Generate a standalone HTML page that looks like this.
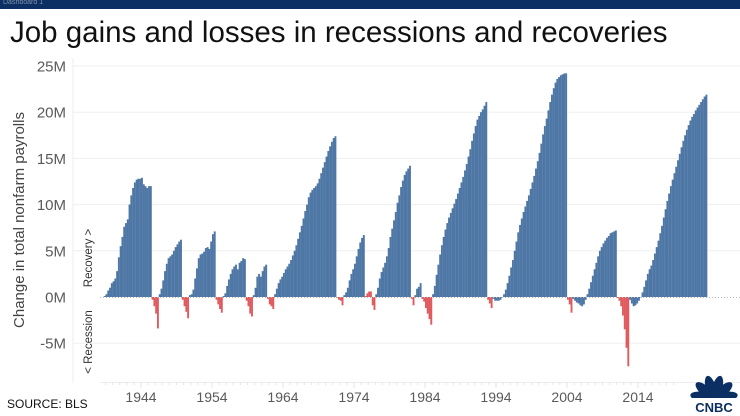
<!DOCTYPE html>
<html><head><meta charset="utf-8"><style>
html,body{margin:0;padding:0;background:#fff;}
body{width:740px;height:416px;overflow:hidden;position:relative;font-family:"Liberation Sans",sans-serif;}
#topbar{position:absolute;left:0;top:0;width:740px;height:9px;background:#0b2f63;}
#topbar span{position:absolute;left:3px;top:-1px;font-size:7px;color:#7f8fa8;}
#title{position:absolute;left:10px;top:16px;font-size:29.5px;color:#111;white-space:nowrap;}
#source{position:absolute;left:7px;top:397px;font-size:12px;color:#111;}
svg{position:absolute;left:0;top:0;}
</style></head><body>
<div id="topbar"><span>Dashboard 1</span></div>
<div id="title">Job gains and losses in recessions and recoveries</div>
<div id="source">SOURCE: BLS</div>
<svg id="chart" width="740" height="416"></svg>
<script>
const yTicks = [25,20,15,10,5,0,-5];
const yTickLabels = ["25M","20M","15M","10M","5M","0M","-5M"];
const xTicks = [1944,1954,1964,1974,1984,1994,2004,2014];
const startYear = 1938.75;
const episodeTypes = ["rec","recess","rec","recess","rec","recess","rec","recess","rec","recess","rec","recess","rec","recess","rec","recess","rec","recess","rec","recess","rec","recess","rec","recess","rec"];
const episodeValues = [
[0.1,0.3,0.7,1.0,1.5,1.7,2.0,2.8,4.3,5.5,6.5,7.6,8.0,8.4,10.0,11.0,11.8,12.4,12.7,12.8,12.8,12.9,12.2,12.0,11.8,12.0,12.0],
[-0.3,-1.0,-1.8,-3.4],
[0.3,0.9,1.8,2.8,3.6,4.2,4.4,4.6,5.0,5.4,5.7,6.0,6.2],
[-0.3,-1.0,-1.6,-2.3],
[0.2,0.3,0.8,2.0,3.1,4.2,4.6,4.7,4.9,5.3,5.4,5.2,6.0,6.8,7.1],
[-0.3,-0.8,-1.3,-1.7],
[0.1,0.4,1.2,1.9,2.5,3.0,3.3,3.5,3.0,3.7,3.9,4.2,4.1],
[-0.4,-1.0,-1.8,-2.1],
[0.2,1.0,2.2,2.5,2.2,2.8,3.3,3.5],
[-0.2,-0.8,-1.0,-1.3],
[0.3,0.9,1.5,1.9,2.2,2.6,3.0,3.3,3.6,4.0,4.5,5.0,5.6,6.3,7.0,7.7,8.5,9.3,10.0,10.8,11.3,11.6,11.8,12.0,12.3,12.8,13.4,14.0,14.6,15.2,15.8,16.3,16.8,17.2,17.4],
[-0.1,-0.3,-0.4,-0.9],
[0.2,0.5,1.0,1.8,2.5,3.0,3.6,4.4,5.2,5.9,6.4,6.7],
[0.1,0.4,0.6,0.6,-0.9,-1.4],
[0.3,1.0,2.0,2.7,3.2,3.7,4.4,5.3,6.5,7.4,8.3,9.2,10.2,11.0,11.9,12.6,13.2,13.6,13.9,14.2],
[-0.2,-0.9],
[0.2,0.9,1.1,1.5],
[-0.2,-0.5,-1.2,-1.8,-2.4,-3.0],
[0.3,1.2,2.4,3.5,4.6,5.6,6.5,7.3,8.0,8.6,9.1,9.6,10.1,10.6,11.2,11.8,12.4,13.0,13.7,14.4,15.2,16.0,16.9,17.7,18.5,19.2,19.6,20.0,20.3,20.7,21.1],
[-0.3,-0.7,-1.2],
[-0.2,-0.4,-0.4,-0.4,-0.3,0.0,0.3,0.8,1.5,2.3,3.2,4.0,5.0,6.0,7.0,7.8,8.5,9.2,9.8,10.4,11.0,11.7,12.4,13.1,13.9,14.7,15.6,16.6,17.6,18.5,19.3,20.2,21.1,21.9,22.6,23.2,23.6,23.8,24.0,24.1,24.2,24.2],
[-0.3,-0.8,-1.7],
[-0.2,-0.4,-0.6,-0.7,-0.9,-1.0,-0.8,-0.3,0.3,0.9,1.6,2.3,3.0,3.7,4.4,5.0,5.4,5.8,6.1,6.4,6.6,6.9,7.0,7.1,7.2],
[-0.1,-0.4,-1.0,-2.0,-3.5,-5.5,-7.5],
[-0.3,-0.7,-1.0,-0.9,-0.7,-0.4,0.0,0.5,1.1,1.8,2.5,3.0,3.4,4.0,4.7,5.4,6.1,6.9,7.7,8.6,9.5,10.4,11.2,12.0,12.7,13.4,14.1,14.8,15.5,16.2,16.9,17.5,18.1,18.6,19.1,19.5,19.8,20.2,20.5,20.8,21.1,21.4,21.7,21.9]
];

const NS="http://www.w3.org/2000/svg";
const svg=document.getElementById('chart');
function xScale(yr){return 141+(yr-1944)*7.1;}
function yScale(v){return 297-v*9.24;}
function mk(tag,attrs,parent){const e=document.createElementNS(NS,tag);for(const k in attrs)e.setAttribute(k,attrs[k]);(parent||svg).appendChild(e);return e;}

const axisG=mk('g',{});


mk('line',{x1:73,y1:58,x2:73,y2:383,stroke:'#ececec','stroke-width':1},axisG);
mk('line',{x1:100,y1:382.5,x2:740,y2:382.5,stroke:'#ececec','stroke-width':1},axisG);
yTicks.forEach((t,i)=>{
  const y=yScale(t);
  if(t!==0){
    const g=mk('line',{x1:73,y1:y,x2:740,y2:y,stroke:'#efefef','stroke-width':1});
    
    
  }
  const tx=mk('text',{x:66,y:y+5.5,'text-anchor':'end','font-size':15,fill:'#5a5a5a','font-family':'Liberation Sans, sans-serif'});
  tx.textContent=yTickLabels[i];
  
  
});
for(let yr=1939;yr<=2019;yr++){
  const x=xScale(yr);
  mk('line',{x1:x,y1:382,x2:x,y2:yr%10===4?388:385,stroke:'#e6e6e6','stroke-width':1},axisG);
}
xTicks.forEach(t=>{
  const tx=mk('text',{x:xScale(t),y:402,'text-anchor':'middle','font-size':14,fill:'#5a5a5a','font-family':'Liberation Sans, sans-serif'});
  tx.textContent=String(t);
  
  
});

const barsG=mk('g',{});


let q=0;
episodeValues.forEach((vals,ei)=>{
  const col=episodeTypes[ei]==='recess'?'#e05a5e':'#4e77a5';
  vals.forEach(v=>{
    const x=xScale(startYear+q*0.25);
    const y0=yScale(0), y1=yScale(v);
    const r=mk('rect',{x:x.toFixed(2),y:Math.min(y0,y1).toFixed(2),width:1.9,height:Math.max(0.6,Math.abs(y1-y0)).toFixed(2),fill:col},barsG);
    
    
    q++;
  });
});
const zl=mk('line',{x1:100,y1:297.5,x2:740,y2:297.5,stroke:'#b8b8b8','stroke-width':1,'stroke-dasharray':'1,2'});



const yt=mk('text',{x:0,y:0,transform:'translate(24,220) rotate(-90)','text-anchor':'middle','font-size':15,fill:'#444','font-family':'Liberation Sans, sans-serif'});
yt.textContent='Change in total nonfarm payrolls';


const rc=mk('text',{x:0,y:0,transform:'translate(92,258) rotate(-90)','text-anchor':'middle','font-size':11.5,fill:'#333','font-family':'Liberation Sans, sans-serif'});
rc.textContent='Recovery >';


const rs=mk('text',{x:0,y:0,transform:'translate(92,342) rotate(-90)','text-anchor':'middle','font-size':11.5,fill:'#333','font-family':'Liberation Sans, sans-serif'});
rs.textContent='< Recession';



const logo=mk('g',{});


const cx=714,cy=399;
const angs=[-170,-138,-106,-74,-42,-10];
angs.forEach(a=>{
  const rad=a*Math.PI/180;
  const ex=cx+Math.cos(rad)*24, ey=cy+Math.sin(rad)*24;
  mk('ellipse',{cx:(cx+ex)/2,cy:(cy+ey)/2,rx:12,ry:5,transform:`rotate(${a} ${(cx+ex)/2} ${(cy+ey)/2})`,fill:'#0b2f63'},logo);
});
mk('rect',{x:688,y:398,width:52,height:18,fill:'#fff'},logo);
const ct=mk('text',{x:714,y:412,'text-anchor':'middle','font-size':13,'font-weight':'bold',fill:'#0b2f63','font-family':'Liberation Sans, sans-serif'},logo);
ct.textContent='CNBC';


</script>
</body></html>
